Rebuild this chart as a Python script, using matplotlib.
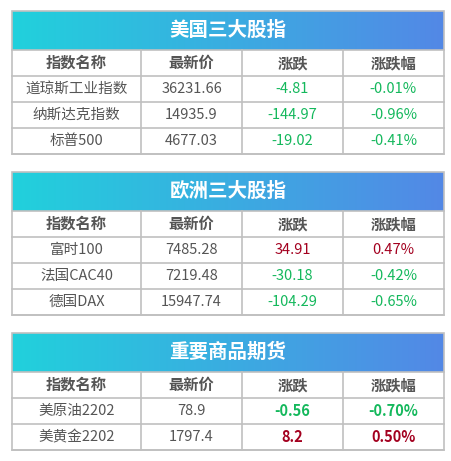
import numpy as np
import matplotlib.pyplot as plt
from matplotlib.patches import Rectangle

plt.rcParams['font.family'] = ['Noto Sans CJK SC', 'DejaVu Sans']

titles = ["美国三大股指", "欧洲三大股指", "重要商品期货"]
columns = ["指数名称", "最新价", "涨跌", "涨跌幅"]
names = [["道琼斯工业指数", "纳斯达克指数", "标普500"],
         ["富时100", "法国CAC40", "德国DAX"],
         ["美原油2202", "美黄金2202"]]
prices = [["36231.66", "14935.9", "4677.03"],
          ["7485.28", "7219.48", "15947.74"],
          ["78.9", "1797.4"]]
changes = [[-4.81, -144.97, -19.02],
           [34.91, -30.18, -104.29],
           [-0.56, 8.2]]
pcts = [[-0.01, -0.96, -0.41],
        [0.47, -0.42, -0.65],
        [-0.70, 0.50]]

W, H = 451, 461
fig = plt.figure(figsize=(W / 100, H / 100), dpi=100)
ax = fig.add_axes([0, 0, 1, 1])
ax.set_xlim(0, W)
ax.set_ylim(H, 0)
ax.axis("off")

x0, x1 = 12, 444
cols = [12, 141, 242, 343, 444]
title_h, row_h = 39, 26
tops = [11, 172, 333]
grid = "#c0c0c0"
green, red, txt = "#14b85c", "#a3001f", "#555555"

grad = np.linspace(0, 1, 256).reshape(1, -1)
from matplotlib.colors import LinearSegmentedColormap
cmap = LinearSegmentedColormap.from_list("g", ["#21d1dc", "#5388e6"])

for t, top in enumerate(tops):
    ax.imshow(grad, cmap=cmap, aspect="auto",
              extent=(x0, x1, top + title_h, top), zorder=1)
    ax.text((x0 + x1) / 2, top + title_h / 2, titles[t], color="white",
            fontsize=14, fontweight="bold", ha="center", va="center", zorder=3)
    nrows = len(names[t]) + 1
    bottom = top + title_h + nrows * row_h
    ax.add_patch(Rectangle((x0, top), x1 - x0, bottom - top, fill=False,
                           ec=grid, lw=1.2, zorder=4))
    for r in range(nrows + 1):
        y = top + title_h + r * row_h
        ax.plot([x0, x1], [y, y], color=grid, lw=1.2, zorder=4)
    for c in cols[1:-1]:
        ax.plot([c, c], [top + title_h, bottom], color=grid, lw=1.2, zorder=4)
    cx = [(cols[i] + cols[i + 1]) / 2 for i in range(4)]
    yh = top + title_h + row_h / 2
    for i, col in enumerate(columns):
        ax.text(cx[i], yh, col, color=txt, fontsize=11, fontweight="bold",
                ha="center", va="center")
    bold = "bold" if t == 2 else "normal"
    for r in range(len(names[t])):
        y = top + title_h + (r + 1.5) * row_h
        clr = green if changes[t][r] < 0 else red
        ax.text(cx[0], y, names[t][r], color=txt, fontsize=10.5, ha="center", va="center")
        ax.text(cx[1], y, prices[t][r], color=txt, fontsize=10.5, ha="center", va="center")
        ax.text(cx[2], y, f"{changes[t][r]:g}", color=clr, fontsize=10.5,
                fontweight=bold, ha="center", va="center")
        ax.text(cx[3], y, f"{pcts[t][r]:.2f}%", color=clr, fontsize=10.5,
                fontweight=bold, ha="center", va="center")

fig.savefig("out.png", dpi=100)
